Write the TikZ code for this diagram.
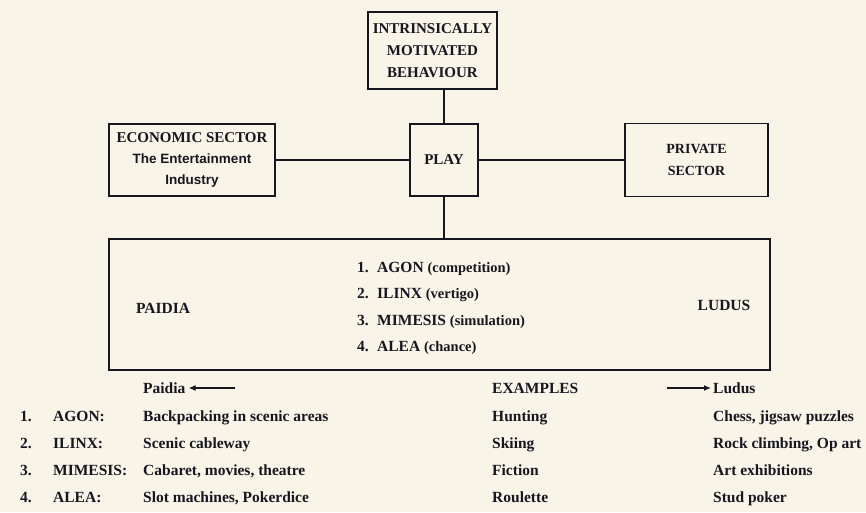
\documentclass[tikz,border=0pt]{standalone}
\usepackage{fontspec}
\setmainfont{Liberation Serif}
\newfontfamily\sansf{Liberation Sans}
\usetikzlibrary{arrows.meta}
\definecolor{paper}{RGB}{248,245,232}
\definecolor{ink}{RGB}{22,22,32}
\begin{document}
\begin{tikzpicture}[x=1pt,y=-1pt,
  every node/.style={text=ink,font=\fontsize{15}{21}\selectfont\bfseries},
  box/.style={draw=ink,line width=1.4pt,inner sep=0pt,align=center},
  conn/.style={draw=ink,line width=1.3pt},
  lbl/.style={anchor=base west,inner sep=0pt,font=\fontsize{15.5}{18}\selectfont\bfseries},
  tip/.style={-{Latex[length=7pt,width=6pt]}}]
\fill[paper] (0,0) rectangle (866,512);
\useasboundingbox (0,0) rectangle (866,512);

% boxes
\node[box,minimum width=129pt,minimum height=77pt,font=\fontsize{15}{22}\selectfont\bfseries] (intr) at (432.5,50.5) {INTRINSICALLY\\MOTIVATED\\BEHAVIOUR};
\node[box,minimum width=166pt,minimum height=72pt] (econ) at (192,160) {ECONOMIC SECTOR\\{\sansf\fontsize{13.5}{21}\selectfont\bfseries The Entertainment}\\{\sansf\fontsize{13.5}{21}\selectfont\bfseries Industry}};
\node[box,minimum width=68pt,minimum height=72pt] (play) at (444,160) {PLAY};
\node[box,minimum width=143pt,minimum height=73pt,font=\fontsize{14}{22}\selectfont\bfseries] (priv) at (696.5,160) {PRIVATE\\SECTOR};
\node[box,minimum width=661pt,minimum height=131pt] (big) at (439.5,304.5) {};

% connectors
\draw[conn] (play.north) -- (play.north |- intr.south);
\draw[conn] (econ.east) -- (play.west);
\draw[conn] (play.east) -- (priv.west);
\draw[conn] (play.south) -- (play.south |- big.north);

% inside the big box
\node[font=\fontsize{15.5}{18}\selectfont\bfseries] (paidia) at (163,308) {PAIDIA};
\node[font=\fontsize{15.5}{18}\selectfont\bfseries] (ludus) at (724,305) {LUDUS};
\node[lbl] (n1) at (357,272) {1.};
\node[lbl] (t1) at (377,272) {AGON {\fontsize{14.5}{16}\selectfont(competition)}};
\node[lbl] (n2) at (357,298) {2.};
\node[lbl] (t2) at (377,298) {ILINX {\fontsize{14.5}{16}\selectfont(vertigo)}};
\node[lbl] (n3) at (357,325) {3.};
\node[lbl] (t3) at (377,325) {MIMESIS {\fontsize{14.5}{16}\selectfont(simulation)}};
\node[lbl] (n4) at (357,351) {4.};
\node[lbl] (t4) at (377,351) {ALEA {\fontsize{14.5}{16}\selectfont(chance)}};

% table header
\node[lbl] (paidiaL) at (143,393) {Paidia};
\coordinate (pa) at (235,388);
\draw[conn,tip] (pa) -- ([xshift=3pt]paidiaL.east |- pa);
\node[lbl] (examples) at (492,393) {EXAMPLES};
\node[lbl] (ludusL) at (713,393) {Ludus};
\coordinate (la) at (667,388);
\draw[conn,tip] (la) -- ([xshift=-2pt]ludusL.west |- la);

% table rows
\node[lbl] (r1n) at (20,421) {1.};
\node[lbl] (r1a) at (53,421) {AGON:};
\node[lbl] (r1b) at (143,421) {Backpacking in scenic areas};
\node[lbl] (r1c) at (492,421) {Hunting};
\node[lbl] (r1d) at (713,421) {Chess, jigsaw puzzles};

\node[lbl] (r2n) at (20,448) {2.};
\node[lbl] (r2a) at (53,448) {ILINX:};
\node[lbl] (r2b) at (143,448) {Scenic cableway};
\node[lbl] (r2c) at (492,448) {Skiing};
\node[lbl] (r2d) at (713,448) {Rock climbing, Op art};

\node[lbl] (r3n) at (20,475) {3.};
\node[lbl] (r3a) at (53,475) {MIMESIS:};
\node[lbl] (r3b) at (143,475) {Cabaret, movies, theatre};
\node[lbl] (r3c) at (492,475) {Fiction};
\node[lbl] (r3d) at (713,475) {Art exhibitions};

\node[lbl] (r4n) at (20,502) {4.};
\node[lbl] (r4a) at (53,502) {ALEA:};
\node[lbl] (r4b) at (143,502) {Slot machines, Pokerdice};
\node[lbl] (r4c) at (492,502) {Roulette};
\node[lbl] (r4d) at (713,502) {Stud poker};
\end{tikzpicture}
\end{document}
